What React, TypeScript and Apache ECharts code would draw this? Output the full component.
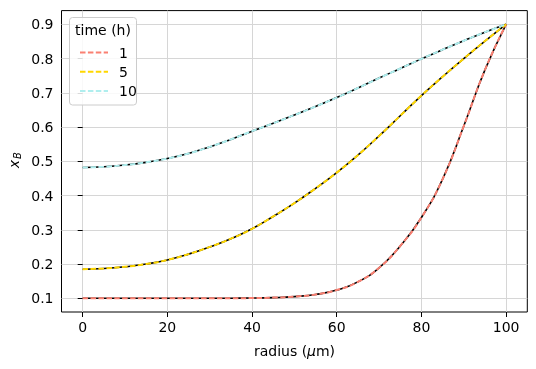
import React, { useEffect, useRef } from 'react';
import * as echarts from 'echarts';

const radius = [0, 5, 10, 15, 20, 25, 30, 35, 40, 45, 50, 55, 60, 65, 70, 75, 80, 85, 90, 95, 100];
const times = ['1', '5', '10'];
const xB_t1 = [0.1, 0.1, 0.1, 0.1, 0.1, 0.1, 0.1, 0.1003, 0.1007, 0.102, 0.105, 0.111, 0.124, 0.148, 0.189, 0.253, 0.336, 0.448, 0.603, 0.767, 0.9];
const xB_t5 = [0.185, 0.187, 0.192, 0.2, 0.212, 0.229, 0.25, 0.274, 0.303, 0.339, 0.378, 0.421, 0.467, 0.518, 0.574, 0.633, 0.692, 0.747, 0.8, 0.851, 0.9];
const xB_t10 = [0.482, 0.484, 0.489, 0.497, 0.508, 0.523, 0.542, 0.564, 0.588, 0.611, 0.635, 0.66, 0.686, 0.714, 0.743, 0.771, 0.799, 0.826, 0.852, 0.877, 0.9];
const xTicks = [0, 20, 40, 60, 80, 100];
const yTicks = [0.1, 0.2, 0.3, 0.4, 0.5, 0.6, 0.7, 0.8, 0.9];
const colors = ['#FA8072', '#FFD700', '#AFEEEE'];

const FONT = 'DejaVu Sans';
const FS = 14;

export default function App() {
  const ref = useRef<HTMLDivElement>(null);
  useEffect(() => {
    const chart = echarts.init(ref.current as HTMLDivElement, null, { renderer: 'svg' });
    const all = [xB_t1, xB_t5, xB_t10];
    const pairs = (ys: number[]) => radius.map((r, i) => [r, ys[i]]);
    const black = all.map((ys, i) => ({
      type: 'line',
      name: 'ref' + i,
      data: pairs(ys),
      symbol: 'none',
      smooth: 0.5,
      silent: true,
      lineStyle: { color: '#000', width: 1.6 },
      itemStyle: { color: '#000' },
      z: 2,
    }));
    const colored = all.map((ys, i) => ({
      type: 'line',
      name: times[i],
      data: pairs(ys),
      symbol: 'none',
      smooth: 0.5,
      lineStyle: { color: colors[i], width: 2, type: [5.5, 2.4] },
      itemStyle: { color: colors[i] },
      z: 3,
    }));
    chart.setOption({
      animation: false,
      grid: {
        left: 61.5,
        right: 8.7,
        top: 10.6,
        bottom: 57,
        show: true,
        borderColor: '#000',
        borderWidth: 1,
        backgroundColor: 'transparent',
      },
      xAxis: {
        type: 'value',
        min: -5,
        max: 105,
        axisLine: { show: false },
        axisTick: { show: true, customValues: xTicks, length: 5, lineStyle: { color: '#000', width: 1 } },
        axisLabel: { customValues: xTicks, margin: 8, fontFamily: FONT, fontSize: FS, color: '#000' },
        splitLine: { show: true, lineStyle: { color: '#d6d6d6', width: 1 } },
      },
      yAxis: {
        type: 'value',
        min: 0.06,
        max: 0.94,
        axisLine: { show: false },
        axisTick: { show: true, customValues: yTicks, length: 5, lineStyle: { color: '#000', width: 1 } },
        axisLabel: {
          customValues: yTicks,
          margin: 8,
          fontFamily: FONT,
          fontSize: FS,
          color: '#000',
          formatter: (v: number) => v.toFixed(1),
        },
        splitLine: { show: true, lineStyle: { color: '#d6d6d6', width: 1 } },
      },
      legend: {
        data: times,
        orient: 'vertical',
        left: 74,
        top: 40.5,
        itemWidth: 28,
        itemHeight: 14,
        itemGap: 5.2,
        z: 20,
        itemStyle: { opacity: 0, borderWidth: 0 },
        lineStyle: { width: 2 },
        textStyle: { fontFamily: FONT, fontSize: FS, color: '#000', padding: [0, 0, 0, 6] },
      },
      graphic: [
        {
          type: 'rect',
          z: 10,
          shape: { x: 69.5, y: 17.5, width: 67, height: 87.5, r: 3 },
          style: { fill: 'rgba(255,255,255,0.85)', stroke: '#cccccc', lineWidth: 1 },
        },
        {
          type: 'text',
          z: 11,
          x: 103,
          y: 29.5,
          style: { text: 'time (h)', fontFamily: FONT, fontSize: FS, fill: '#000', align: 'center', verticalAlign: 'middle' },
        },
        {
          type: 'text',
          x: 294.5,
          y: 350.5,
          style: {
            text: '{a|radius (}{m|μ}{a|m)}',
            align: 'center',
            verticalAlign: 'middle',
            rich: {
              a: { fontFamily: FONT, fontSize: FS, fill: '#000' },
              m: { fontFamily: FONT, fontSize: FS, fontStyle: 'italic', fill: '#000' },
            },
          },
        },
        {
          type: 'group',
          x: 14,
          y: 160,
          rotation: Math.PI / 2,
          children: [
            {
              type: 'text',
              x: -4,
              y: 0,
              style: { text: 'x', fontFamily: FONT, fontSize: FS, fontStyle: 'italic', fill: '#000', align: 'center', verticalAlign: 'middle' },
            },
            {
              type: 'text',
              x: 4.5,
              y: 3,
              style: { text: 'B', fontFamily: FONT, fontSize: 10, fontStyle: 'italic', fill: '#000', align: 'center', verticalAlign: 'middle' },
            },
          ],
        },
      ],
      series: [...black, ...colored],
    });
    return () => chart.dispose();
  }, []);
  return <div ref={ref} style={{ position: 'fixed', left: 0, top: 0, width: 536, height: 369 }} />;
}
